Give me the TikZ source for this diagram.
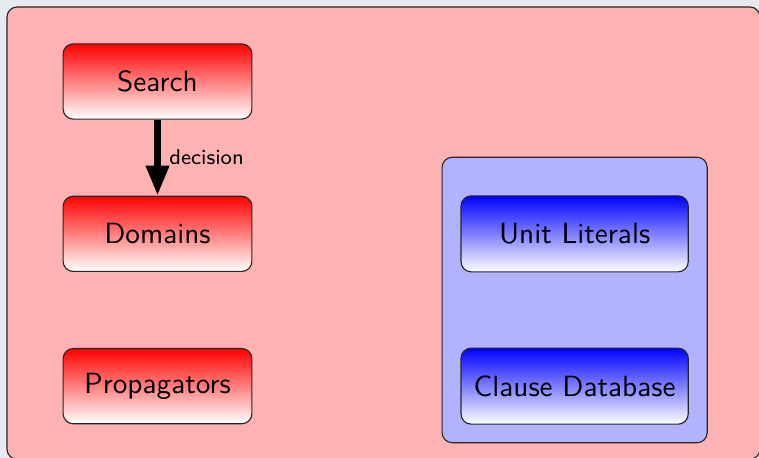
\documentclass[tikz,border=0pt]{standalone}
\usepackage{tikz}
\usetikzlibrary{arrows.meta,calc,fit,positioning,backgrounds}
\usepackage{xcolor}
\renewcommand{\familydefault}{\sfdefault}
\definecolor{slidebg}{RGB}{229,235,239}
\tikzset{
  part box/.style={draw=black!85,thin,rounded corners=3.6pt,align=center,inner sep=2pt,
    font=\fontsize{10.4}{12}\selectfont},
  engine part/.style={part box,top color=red,bottom color=white,
    minimum width=2.36cm,minimum height=0.94cm},
  sat part/.style={part box,top color=blue,bottom color=white,
    minimum width=2.84cm,minimum height=0.95cm},
  region/.style={draw=black!85,thin,rounded corners=3.6pt},
  flow/.style={line width=2.5pt,-{Triangle[length=10.7pt,width=7.8pt]}}
}

\begin{document}
\begin{tikzpicture}[line join=round]
  \useasboundingbox (0,0) rectangle (9.4875,-5.725);

  % Engine side: search feeds decisions into the domains.
  \node[engine part] (search) at (1.969,-1.019) {Search};
  \node[engine part,below=0.95cm of search] (domains) {Domains};
  \node[engine part,below=0.95cm of domains] (props) {Propagators};

  % SAT side.
  \node[sat part,right=2.6cm of domains] (units) {Unit Literals};
  \node[sat part,below=0.94cm of units] (clauses) {Clause Database};
  \coordinate (satTop) at ($(units.north)+(0,0.25)$);

  \draw[flow] (search) -- node[midway,right=-0.4pt,font=\fontsize{7.6}{9}\selectfont] {decision} (domains);

  \begin{scope}[on background layer]
    \fill[slidebg] (0,0) rectangle (9.4875,-5.725);
    \draw[region,fill=red!30] (0.0875,-0.0875) rectangle (9.50,-5.74);
    \node[region,fill=blue!30,fit=(satTop)(units)(clauses),
          inner xsep=0.23cm,inner ysep=0.225cm] (satbox) {};
  \end{scope}
\end{tikzpicture}
\end{document}
